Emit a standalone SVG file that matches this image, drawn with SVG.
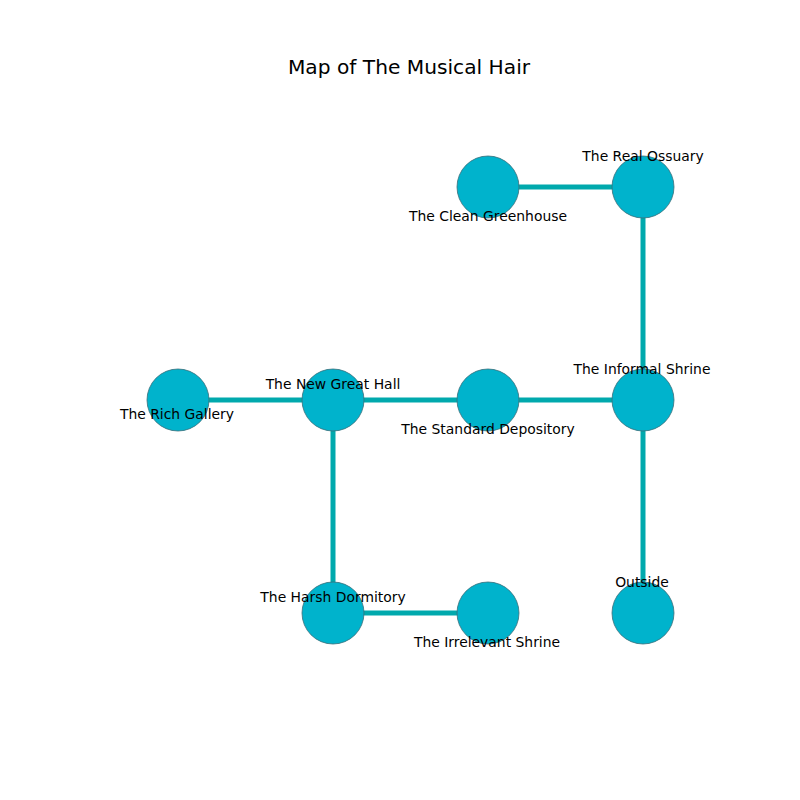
<svg xmlns="http://www.w3.org/2000/svg" width="800" height="800" viewBox="0 0 800 800">
<style>
.edge{stroke:#00a9ad;stroke-width:5;fill:none}
.node circle{fill:#00b3cc;stroke:#3a6f7a;stroke-width:0.8}
text{font-family:"DejaVu Sans",sans-serif;font-size:13.9px;fill:#000;text-anchor:middle;dominant-baseline:central}
.title{font-size:20.2px}
</style>
<rect width="800" height="800" fill="#fff"/>
<text class="title" x="409" y="67">Map of The Musical Hair</text>
<g id="edges">
<line class="edge" x1="488" y1="187" x2="643" y2="187"/>
<line class="edge" x1="643" y1="187" x2="643" y2="400"/>
<line class="edge" x1="178" y1="400" x2="643" y2="400"/>
<line class="edge" x1="643" y1="400" x2="643" y2="613"/>
<line class="edge" x1="333" y1="400" x2="333" y2="613"/>
<line class="edge" x1="333" y1="613" x2="488" y2="613"/>
</g>
<g id="n-clean-greenhouse" class="node"><circle cx="488" cy="187" r="31"/></g>
<g id="n-real-ossuary" class="node"><circle cx="643" cy="187" r="31"/></g>
<g id="n-rich-gallery" class="node"><circle cx="178" cy="400" r="31"/></g>
<g id="n-new-great-hall" class="node"><circle cx="333" cy="400" r="31"/></g>
<g id="n-standard-depository" class="node"><circle cx="488" cy="400" r="31"/></g>
<g id="n-informal-shrine" class="node"><circle cx="643" cy="400" r="31"/></g>
<g id="n-harsh-dormitory" class="node"><circle cx="333" cy="613" r="31"/></g>
<g id="n-irrelevant-shrine" class="node"><circle cx="488" cy="613" r="31"/></g>
<g id="n-outside" class="node"><circle cx="643" cy="613" r="31"/></g>
<g id="labels">
<text x="488" y="216">The Clean Greenhouse</text>
<text x="643" y="156">The Real Ossuary</text>
<text x="177" y="414">The Rich Gallery</text>
<text x="333" y="384">The New Great Hall</text>
<text x="488" y="429">The Standard Depository</text>
<text x="642" y="369">The Informal Shrine</text>
<text x="333" y="597">The Harsh Dormitory</text>
<text x="487" y="642">The Irrelevant Shrine</text>
<text x="642" y="582">Outside</text>
</g>
</svg>
